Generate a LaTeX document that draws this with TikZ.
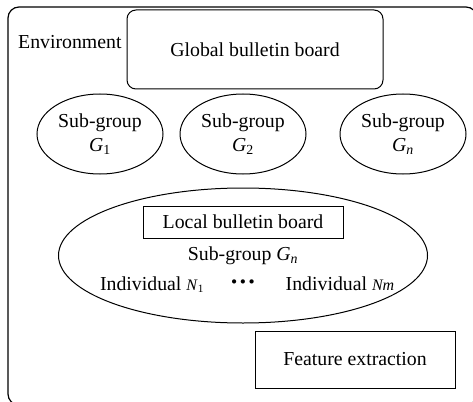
\documentclass[tikz,border=0pt]{standalone}
\usepackage{fontspec}
\setmainfont{Liberation Serif}
\usepackage{tikz}
\usetikzlibrary{shapes.geometric,positioning}
\newcommand{\subsym}[2]{\textit{#1}\textsubscript{#2}}

\begin{document}
\begin{tikzpicture}[
    x=1pt, y=-1pt,
    font=\fontsize{19.8}{23.5}\selectfont,
    board/.style={rectangle, rounded corners=9pt, draw, line width=1pt,
        minimum width=256pt, minimum height=79pt, inner sep=0pt, align=center},
    group/.style={ellipse, draw, line width=1pt, minimum width=126pt,
        minimum height=80pt, inner sep=0pt, align=center},
    bigroup/.style={ellipse, draw, line width=1pt, minimum width=369pt,
        minimum height=135pt, inner sep=0pt},
    plainbox/.style={rectangle, draw, line width=1pt, inner sep=0pt, align=center},
    label/.style={inner sep=0pt}
]
\clip (0,0) rectangle (473,401);
\useasboundingbox (0,0) rectangle (473,401);

% environment frame, cut by the page edge
\draw[line width=1.2pt, rounded corners=11pt] (8,7) rectangle (477,405);
\node[label, anchor=base west] (env) at (18,49) {Environment};

\node[board] (global) at (255,49.5) {Global bulletin board};

\node[group] (g1) at (100,134) {Sub-group\\\subsym{G}{1}};
\node[group] (g2) at (243,134) {Sub-group\\\subsym{G}{2}};
\node[group] (gn) at (403,134) {Sub-group\\\subsym{G}{\textit{n}}};

\node[bigroup] (sub) at (243,255.5) {};
\node[plainbox, minimum width=200pt, minimum height=32pt] (local) at (243,222) {Local bulletin board};
\node[label, anchor=base] (subname) at (243,260) {Sub-group \subsym{G}{\textit{n}}};
\node[label, anchor=base] (ind1) at (152,290) {Individual {\fontsize{16}{18}\selectfont\subsym{N}{1}}};
\node[label, anchor=base, font=\fontsize{26}{26}\selectfont\bfseries] (dots) at (243,290) {···};
\node[label, anchor=base] (indm) at (340,290) {Individual {\fontsize{16}{18}\selectfont\textit{Nm}}};

\node[plainbox, minimum width=200pt, minimum height=57pt] (feature) at (355,359.5) {Feature extraction};

\end{tikzpicture}
\end{document}
